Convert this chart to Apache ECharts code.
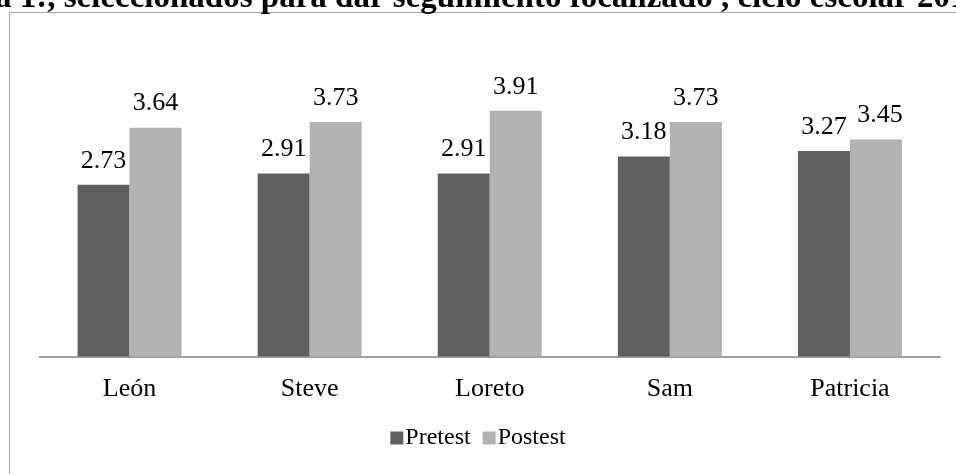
<!DOCTYPE html>
<html>
<head>
<meta charset="utf-8">
<script src="https://cdn.jsdelivr.net/npm/echarts@6/dist/echarts.min.js"></script>
<style>
html,body{margin:0;padding:0;background:#fff;}
#chart{width:956px;height:474px;}
</style>
</head>
<body>
<div id="chart"></div>
<script>
var categories = ['León', 'Steve', 'Loreto', 'Sam', 'Patricia'];
var pretest = [2.73, 2.91, 2.91, 3.18, 3.27];
var postest = [3.64, 3.73, 3.91, 3.73, 3.45];
var seriesNames = ['Pretest', 'Postest'];
var titleText = 'a 1:, seleccionados para dar seguimiento focalizado , ciclo escolar 2013-2014';

// label nudges (Excel-style collision avoidance on last category)
var preLabelShift = [0, 0, 0, 0, 0];
var postLabelShift = [0, 0, 0, 0, 4];

var FONT = '"Liberation Serif", "Times New Roman", serif';

function buildData(vals, shifts) {
  return vals.map(function (v, i) {
    return shifts[i] ? { value: v, label: { offset: [shifts[i], 0] } } : v;
  });
}

var chart = echarts.init(document.getElementById('chart'));
var labelStyle = {
  show: true, position: 'top', distance: 11,
  fontFamily: FONT, fontSize: 26, color: '#000',
  formatter: function (p) { return p.value.toFixed(2); }
};
chart.setOption({
  animation: false,
  backgroundColor: '#fff',
  graphic: [
    { type: 'rect', shape: { x: 9.5, y: 12.5, width: 1000, height: 500 },
      style: { fill: 'none', stroke: '#a6a6a6', lineWidth: 1 }, silent: true },
    { type: 'text', x: -5, y: -18,
      style: { text: titleText, font: 'bold 33px ' + FONT, fill: '#000',
               verticalAlign: 'top' }, silent: true }
  ],
  legend: {
    data: seriesNames, top: 421, left: 'center',
    itemWidth: 13, itemHeight: 13, itemGap: 12, icon: 'rect',
    textStyle: { fontFamily: FONT, fontSize: 24, color: '#000', padding: [0, 0, 0, -3] }
  },
  grid: { left: 39.5, right: 16, top: 73.6, bottom: 117.5, containLabel: false },
  xAxis: {
    type: 'category', data: categories,
    axisLine: { show: true, lineStyle: { color: '#a0a0a0', width: 2 } },
    axisTick: { show: false },
    axisLabel: { fontFamily: FONT, fontSize: 26, color: '#000', margin: 20 }
  },
  yAxis: {
    type: 'value', min: 0, max: 4.5, show: false,
    splitLine: { show: false }
  },
  series: [
    { name: seriesNames[0], type: 'bar', data: buildData(pretest, preLabelShift),
      barWidth: 52, barGap: '0%', itemStyle: { color: '#606060' }, label: labelStyle },
    { name: seriesNames[1], type: 'bar', data: buildData(postest, postLabelShift),
      barWidth: 52, barGap: '0%', itemStyle: { color: '#b2b2b2' }, label: labelStyle }
  ]
});
</script>
</body>
</html>
